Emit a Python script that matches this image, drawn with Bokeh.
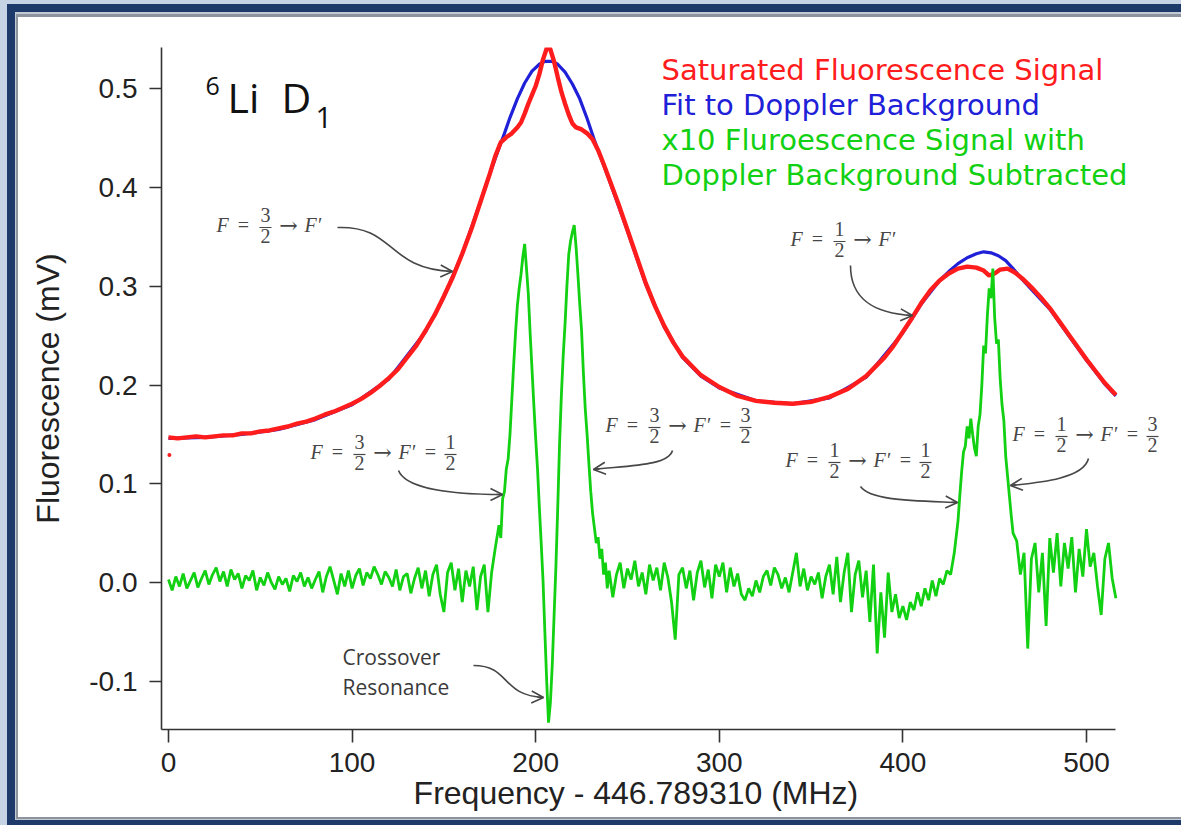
from bokeh.plotting import figure
from bokeh.models import Range1d, FixedTicker, PrintfTickFormatter, Label, Arrow, OpenHead
from bokeh.embed import file_html
from bokeh.resources import INLINE

# ---------------- data ----------------
x_ticks = [0, 100, 200, 300, 400, 500]
y_ticks = [-0.1, 0.0, 0.1, 0.2, 0.3, 0.4, 0.5]

# Saturated fluorescence signal (red)
red_x = [0, 5, 10, 15, 20, 25, 30, 35, 40, 45, 50, 55, 60, 65, 70, 75, 80, 85, 90, 95,
         100, 105, 110, 115, 120, 125, 130, 135, 140, 145, 150, 155, 160, 165, 170, 175,
         178, 181, 184, 187, 190, 192, 194, 196, 198, 200, 202, 204, 206, 207, 208, 210,
         212, 214, 216, 218, 220, 222, 225, 228, 231, 234, 237, 240, 245, 250, 255, 260,
         265, 270, 275, 280, 290, 300, 310, 320, 330, 340, 350, 360, 370, 380, 390, 395,
         400, 405, 410, 415, 420, 425, 430, 435, 440, 444, 447, 450, 453, 457, 461, 465,
         470, 475, 480, 485, 490, 495, 500, 505, 510, 516]
red_y = [0.147, 0.146, 0.147, 0.148, 0.147, 0.148, 0.149, 0.149, 0.151, 0.151, 0.153, 0.154,
         0.156, 0.158, 0.161, 0.163, 0.166, 0.170, 0.173, 0.177, 0.181, 0.186, 0.192, 0.199,
         0.207, 0.216, 0.228, 0.240, 0.255, 0.271, 0.290, 0.310, 0.333, 0.358, 0.386, 0.414,
         0.432, 0.446, 0.451, 0.455, 0.461, 0.466, 0.475, 0.485, 0.494, 0.503, 0.515, 0.530,
         0.541, 0.544, 0.540, 0.528, 0.512, 0.497, 0.485, 0.474, 0.465, 0.461, 0.459, 0.455,
         0.449, 0.438, 0.424, 0.409, 0.384, 0.357, 0.330, 0.303, 0.280, 0.260, 0.243, 0.229,
         0.210, 0.198, 0.189, 0.184, 0.182, 0.181, 0.183, 0.188, 0.196, 0.209, 0.228, 0.240,
         0.254, 0.268, 0.283, 0.296, 0.306, 0.313, 0.318, 0.320, 0.319, 0.316, 0.311, 0.313,
         0.317, 0.318, 0.314, 0.308, 0.299, 0.289, 0.278, 0.265, 0.252, 0.239, 0.226, 0.214,
         0.202, 0.190]
red_stray_x = [0.5]
red_stray_y = [0.129]

# Fit to Doppler background (blue)
blue_x = [0, 20, 40, 60, 80, 100, 120, 140, 150, 160, 170, 175, 180, 183, 186, 190, 194, 198,
          202, 205, 207, 209, 212, 216, 220, 224, 228, 232, 236, 240, 250, 260, 270, 280, 290,
          300, 320, 340, 360, 380, 400, 410, 420, 425, 430, 435, 440, 444, 448, 452, 456, 460,
          465, 470, 480, 490, 500, 510, 516]
blue_y = [0.146, 0.147, 0.150, 0.155, 0.165, 0.180, 0.206, 0.254, 0.289, 0.333, 0.386, 0.414,
          0.440, 0.455, 0.471, 0.490, 0.506, 0.518, 0.525, 0.528, 0.528, 0.528, 0.525, 0.517,
          0.505, 0.490, 0.470, 0.448, 0.428, 0.408, 0.356, 0.302, 0.259, 0.228, 0.209, 0.197,
          0.184, 0.181, 0.187, 0.208, 0.253, 0.282, 0.306, 0.315, 0.323, 0.329, 0.333, 0.335,
          0.334, 0.331, 0.326, 0.318, 0.307, 0.297, 0.277, 0.251, 0.225, 0.201, 0.189]

# x10 fluorescence signal with Doppler background subtracted (green), in pieces
green_a_x = [0, 2, 4, 6, 8, 10, 12, 14, 16, 18, 20, 22, 24, 26, 28, 30, 32, 34, 36, 38, 40, 42,
             44, 46, 48, 50, 52, 54, 56, 58, 60, 62, 64, 66, 68, 70, 72, 74, 76, 78, 80, 82, 84,
             86, 88, 90, 92, 94, 96, 98, 100, 102, 104, 106, 108, 110, 112, 114, 116, 118, 120,
             122, 124, 126, 128, 130, 132, 134, 136, 138, 140, 142, 144, 146, 148, 150, 152,
             154, 156, 158, 160, 162, 164, 166, 168, 170, 172, 174]
green_a_y = [0.003, -0.008, 0.006, -0.004, 0.009, -0.006, 0.002, 0.010, -0.005, 0.004, 0.012,
             -0.002, 0.008, 0.015, 0.001, 0.011, -0.004, 0.013, 0.003, 0.009, -0.006, 0.007,
             0.002, 0.012, -0.008, 0.005, -0.003, 0.010, 0.000, -0.007, 0.006, -0.002, 0.004,
             -0.009, 0.007, 0.001, 0.010, -0.004, 0.005, -0.006, 0.003, 0.011, -0.010, 0.006,
             0.016, 0.002, -0.012, 0.009, -0.004, 0.012, -0.006, 0.007, 0.014, -0.003, 0.010,
             0.004, 0.016, 0.008, -0.002, 0.011, 0.005, -0.004, 0.013, -0.008, 0.006, 0.009,
             -0.011, 0.004, 0.015, -0.006, 0.012, -0.014, 0.008, 0.018, -0.012, -0.030, 0.010,
             0.020, -0.008, 0.014, -0.020, 0.012, -0.004, 0.016, -0.028, 0.006, 0.018, -0.030]
green_b_x = [176, 178, 180, 181, 182, 183, 184, 185, 186, 187, 188, 189, 190, 191, 192, 193, 194,
             195, 196, 197, 198, 199, 200, 201, 202, 203, 204, 205, 206, 207, 208, 209, 210, 211,
             212, 213, 214, 215, 216, 217, 218, 219, 220, 221, 222, 223, 224, 225, 226, 227, 228,
             229, 230, 231, 232, 233, 234, 235, 236, 237, 238, 239]
green_b_y = [0.010, 0.035, 0.058, 0.045, 0.085, 0.092, 0.115, 0.125, 0.150, 0.185, 0.220, 0.252,
             0.280, 0.298, 0.312, 0.330, 0.343, 0.318, 0.292, 0.252, 0.216, 0.180, 0.146, 0.115,
             0.076, 0.040, 0.002, -0.050, -0.100, -0.142, -0.122, -0.085, -0.035, 0.015, 0.075,
             0.140, 0.190, 0.230, 0.262, 0.300, 0.332, 0.346, 0.355, 0.362, 0.340, 0.312, 0.282,
             0.255, 0.212, 0.176, 0.150, 0.120, 0.092, 0.070, 0.055, 0.040, 0.046, 0.024, 0.034,
             0.008, 0.020, -0.006]
green_c_x = [240, 242, 244, 246, 248, 250, 252, 254, 256, 258, 260, 262, 264, 266, 268, 270, 272,
             274, 276, 278, 280, 282, 284, 286, 288, 290, 292, 294, 296, 298, 300, 302, 304, 306,
             308, 310, 312, 314, 316, 318, 320, 322, 324, 326, 328, 330, 332, 334, 336, 338, 340,
             342, 344, 346, 348, 350, 352, 354, 356, 358, 360, 362, 364, 366, 368, 370, 372, 374,
             376, 378, 380, 382, 384, 386, 388, 390, 392, 394, 396, 398, 400, 402, 404, 406, 408,
             410, 412, 414, 416, 418, 420, 422, 424, 426]
green_c_y = [0.012, -0.015, 0.008, 0.020, -0.006, 0.014, 0.003, 0.022, -0.004, 0.010, -0.012,
             0.018, 0.002, 0.015, -0.008, 0.020, 0.005, -0.020, -0.058, 0.008, 0.015, -0.006,
             0.012, -0.018, 0.010, 0.022, -0.005, 0.013, -0.016, 0.018, 0.006, 0.020, -0.010,
             0.015, -0.004, 0.009, -0.012, -0.018, -0.006, -0.014, 0.002, -0.010, 0.006, 0.012,
             -0.003, 0.015, 0.008, -0.006, 0.005, -0.010, 0.010, 0.030, -0.004, 0.014, -0.008,
             0.006, -0.002, 0.010, -0.016, 0.006, 0.018, -0.012, 0.026, -0.020, 0.010, 0.030,
             -0.030, 0.008, 0.022, -0.015, 0.012, -0.040, 0.018, -0.072, -0.010, -0.056, 0.010,
             -0.030, -0.012, -0.036, -0.024, -0.038, -0.020, -0.028, -0.010, -0.024, -0.006,
             -0.018, 0.002, -0.014, 0.004, -0.002, 0.012, 0.008]
green_d_x = [428, 430, 431, 432, 433, 434, 435, 436, 437, 438, 439, 440, 441, 442, 443, 444, 445,
             446, 447, 448, 449, 450, 451, 452, 453, 454, 455, 456, 457, 458, 459, 460]
green_d_y = [0.030, 0.062, 0.088, 0.112, 0.132, 0.138, 0.158, 0.146, 0.166, 0.150, 0.136, 0.128,
             0.158, 0.170, 0.200, 0.240, 0.232, 0.270, 0.298, 0.288, 0.318, 0.268, 0.242, 0.246,
             0.206, 0.180, 0.164, 0.128, 0.108, 0.088, 0.068, 0.050]
green_e_x = [462, 464, 466, 468, 470, 472, 474, 476, 478, 480, 482, 484, 486, 488, 490, 492, 494,
             496, 498, 500, 502, 504, 506, 508, 510, 512, 514, 516]
green_e_y = [0.042, 0.008, 0.030, -0.067, 0.024, 0.040, -0.010, 0.030, -0.044, 0.045, 0.010,
             0.050, -0.004, 0.040, 0.014, 0.046, -0.010, 0.034, 0.006, 0.054, 0.016, 0.030,
             -0.004, -0.033, 0.024, 0.040, 0.004, -0.016]

green_x = green_a_x + green_b_x + green_c_x + green_d_x + green_e_x
green_y = green_a_y + green_b_y + green_c_y + green_d_y + green_e_y

legend_lines = ["Saturated Fluorescence Signal", "Fit to Doppler Background",
                "x10 Fluroescence Signal with", "Doppler Background Subtracted"]

# ---------------- layout ----------------
W, H = 1181, 825
FL, FR, FT, FB = 161, 1181, 47, 729        # plot frame (right side extended for labels)
PXU = 954 / 519.6                          # pixels per MHz
X0 = -3.8
X1 = X0 + (FR - FL) / PXU
AX_X1 = 515.8                              # where the bottom axis ends
Y0, Y1 = -0.149, 0.542


def X(px):
    return X0 + (px - FL) / PXU


def Y(py):
    return Y1 - (py - FT) / (FB - FT) * (Y1 - Y0)


RED = "#ff1c1c"
BLUE = "#2020d8"
GREEN = "#12d012"
MC = "#474747"

page_bg = ("linear-gradient(#ffffff,#ffffff) 18px 17px / 1163px 800px no-repeat, "
           "linear-gradient(#8d939c,#8d939c) 16px 14px / 1165px 805px no-repeat, "
           "linear-gradient(#c2cad6,#c2cad6) 15px 12px / 1166px 808px no-repeat, "
           "linear-gradient(#1d3a6a,#1d3a6a) 7px 4px / 1174px 821px no-repeat, "
           "#c6d3e5")

p = figure(width=W, height=H, x_range=Range1d(X0, X1), y_range=Range1d(Y0, Y1),
           output_backend="svg", toolbar_location=None, title=None,
           min_border_left=FL, min_border_right=W - FR, min_border_top=FT, min_border_bottom=H - FB,
           styles={"background": page_bg})
p.border_fill_color = None
p.background_fill_color = "white"
p.outline_line_color = None
p.xgrid.visible = False
p.ygrid.visible = False

# axes
for ax in (p.xaxis[0], p.yaxis[0]):
    ax.axis_line_color = "#333333"
    ax.axis_line_width = 1.6
    ax.major_tick_line_color = "#333333"
    ax.major_tick_line_width = 1.6
    ax.major_tick_in = 0
    ax.minor_tick_line_color = None
    ax.major_label_text_font = "Liberation Sans"
    ax.major_label_text_font_size = "28px"
    ax.major_label_text_color = "#222222"
    ax.axis_label_text_font = "Liberation Sans"
    ax.axis_label_text_font_size = "32px"
    ax.axis_label_text_font_style = "normal"
    ax.axis_label_text_color = "#222222"

p.xaxis.bounds = (X0, AX_X1)
p.xaxis.ticker = FixedTicker(ticks=x_ticks)
p.yaxis.ticker = FixedTicker(ticks=y_ticks)
p.yaxis.formatter = PrintfTickFormatter(format="%.1f")
p.xaxis.major_tick_out = 13
p.yaxis.major_tick_out = 12
p.xaxis.major_label_standoff = 10
p.yaxis.major_label_standoff = 12
# trailing no-break spaces keep the title centred under the drawn axis (frame is wider)
p.xaxis.axis_label = "Frequency - 446.789310 (MHz)" + "\u00a0" * 8
p.yaxis.axis_label = "Fluorescence (mV)"
p.xaxis.axis_label_standoff = 0
p.yaxis.axis_label_standoff = 20

# data
p.line(blue_x, blue_y, line_color=BLUE, line_width=3.2)
p.line(red_x, red_y, line_color=RED, line_width=4.4)
p.scatter(red_stray_x, red_stray_y, size=4, fill_color=RED, line_color=None)
p.line(green_x, green_y, line_color=GREEN, line_width=2.8)


# text helper: py is the intended baseline in pixels
def txt(px, py, text, font, size, color, align="left", style="normal"):
    p.add_layout(Label(x=X(px), y=Y(py - 0.42 * size), text=text, text_align=align,
                       text_baseline="alphabetic", text_font=font, text_font_size=f"{size}px",
                       text_font_style=style, text_color=color))


# legend-like texts
legend_colors = [RED, BLUE, GREEN, GREEN]
legend_base = [82, 117, 152, 187]
for t, c, b in zip(legend_lines, legend_colors, legend_base):
    txt(661, b, t, "DejaVu Sans", 29, c)

# title 6Li D1
txt(205, 96, "6", "Open Sans", 25, "#111111")
txt(227, 114, "Li", "Open Sans", 41, "#111111")
txt(281, 114, "D", "Open Sans", 41, "#111111")
txt(315, 129, "1", "Open Sans", 29, "#111111")

# Crossover resonance text
txt(342, 665, "Crossover", "Open Sans", 21, "#3a3a3a")
txt(342, 695, "Resonance", "Open Sans", 21, "#3a3a3a")

# math labels
MS = 20
bars = {"x0": [], "x1": [], "y": []}


def frac(cx, base, n, d):
    axis = base - 6
    txt(cx, axis - 4, n, "Liberation Serif", MS, MC, "center")
    txt(cx, axis + 17, d, "Liberation Serif", MS, MC, "center")
    bars["x0"].append(X(cx - 6))
    bars["x1"].append(X(cx + 6))
    bars["y"].append(Y(axis))


def math_label(px, base, n1, d1, n2=None, d2=None):
    txt(px, base, "F", "Liberation Serif", MS, MC, "left", "italic")
    txt(px + 27, base, "=", "Liberation Serif", MS, MC, "center")
    frac(px + 49, base, n1, d1)
    txt(px + 72, base + 1, "\u2192", "DejaVu Serif", 22, MC, "center")
    txt(px + 88, base, "F\u2032", "Liberation Serif", MS, MC, "left", "italic")
    if n2 is not None:
        txt(px + 120, base, "=", "Liberation Serif", MS, MC, "center")
        frac(px + 140, base, n2, d2)


math_label(216, 233, "3", "2")
math_label(310, 460, "3", "2", "1", "2")
math_label(605, 433, "3", "2", "3", "2")
math_label(790, 247, "1", "2")
math_label(785, 468, "1", "2", "1", "2")
math_label(1012, 442, "1", "2", "3", "2")

p.segment(x0=bars["x0"], y0=bars["y"], x1=bars["x1"], y1=bars["y"], line_color=MC, line_width=1.2)

# curved arrows (pixel positions of the annotation strokes)
curves = [
    ((337, 227), (395, 225), (385, 268), (452, 271)),
    ((398, 470), (405, 488), (450, 494), (502, 494)),
    ((672, 450), (668, 465), (630, 465), (593, 469)),
    ((850, 265), (850, 300), (875, 313), (912, 315)),
    ((860, 486), (870, 500), (910, 500), (957, 502)),
    ((1088, 458), (1083, 478), (1040, 482), (1010, 485)),
    ((473, 665), (510, 665), (500, 695), (543, 697)),
]
bz = {k: [] for k in ("x0", "y0", "x1", "y1", "cx0", "cy0", "cx1", "cy1")}
for (p0, c0, c1, p1) in curves:
    bz["x0"].append(X(p0[0])); bz["y0"].append(Y(p0[1]))
    bz["x1"].append(X(p1[0])); bz["y1"].append(Y(p1[1]))
    bz["cx0"].append(X(c0[0])); bz["cy0"].append(Y(c0[1]))
    bz["cx1"].append(X(c1[0])); bz["cy1"].append(Y(c1[1]))
    dx, dy = p1[0] - c1[0], p1[1] - c1[1]
    n = (dx * dx + dy * dy) ** 0.5
    sx, sy = p1[0] - 6 * dx / n, p1[1] - 6 * dy / n
    p.add_layout(Arrow(end=OpenHead(size=12, line_color=MC, line_width=1.6),
                       x_start=X(sx), y_start=Y(sy), x_end=X(p1[0]), y_end=Y(p1[1]),
                       line_color=MC, line_width=1.6))
p.bezier(line_color=MC, line_width=1.6, **bz)

open("out.html", "w").write(file_html(p, INLINE))
